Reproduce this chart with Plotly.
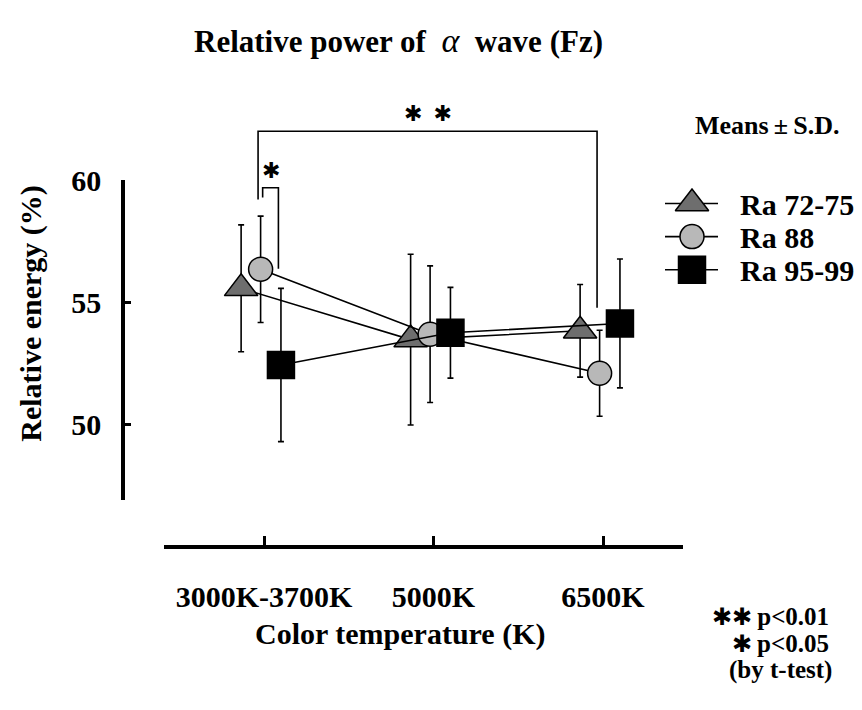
import plotly.graph_objects as go

W, H = 862, 710
SERIF = "Liberation Serif, Times New Roman, serif"

# ---------------- data ----------------
categories = ["3000K-3700K", "5000K", "6500K"]
series_names = ["Ra 72-75", "Ra 88", "Ra 95-99"]
ra72_mean = [55.56, 53.46, 53.82]
ra72_sd = [2.60, 3.50, 1.90]
ra88_mean = [56.34, 53.68, 52.08]
ra88_sd = [2.18, 2.80, 1.76]
ra95_mean = [52.42, 53.74, 54.12]
ra95_sd = [3.14, 1.86, 2.64]
y_tick_vals = [50, 55, 60]

# significance: (series a, category a, series b, category b, label, top level, leg bottom a, leg bottom b)
sig_tests = [
    (1, 0, 1, 2, "✱\u2002✱", 62.0, 59.2, 54.76),
    (1, 0, 2, 0, "✱", 59.68, 59.28, 56.36),
]

# ---------------- styling ----------------
offsets = [-0.135, -0.02, 0.10]
symbols = ["triangle-up", "circle", "square"]
sizes = [29, 24, 27]
fills = ["#6e6e6e", "#b8b8b8", "#000000"]

def px_x(p):
    return p / W

def px_y(p):
    return 1 - p / H

x_dom = [px_x(164), px_x(683)]
y_dom = [px_y(495), px_y(167)]
x_range = [-0.59, 2.472]
y_range = [46.88, 60.0]
slope = (y_range[1] - y_range[0]) / (y_dom[1] - y_dom[0])
y2_range = [y_range[0] - y_dom[0] * slope, y_range[1] + (1 - y_dom[1]) * slope]

# legend layout (pixels)
LEG_ROWS = [191, 225, 259]
LEG_LINE = [665, 692, 718]
LEG_TEXT_X = 738

means = [ra72_mean, ra88_mean, ra95_mean]
sds = [ra72_sd, ra88_sd, ra95_sd]

fig = go.Figure()
for k in range(3):
    fig.add_trace(go.Scatter(
        x=[i + offsets[k] for i in range(len(categories))],
        y=means[k],
        name=series_names[k],
        mode="lines+markers",
        line=dict(color="black", width=1.6),
        marker=dict(symbol=symbols[k], size=sizes[k], color=fills[k], opacity=1,
                    line=dict(color="black", width=1.5)),
        error_y=dict(type="data", array=sds[k], color="black", thickness=1.6, width=3),
        xaxis="x", yaxis="y", cliponaxis=False, showlegend=False,
    ))

# legend glyphs (drawn on a pixel-scaled helper axis pair)
for k in range(3):
    fig.add_trace(go.Scatter(
        x=LEG_LINE, y=[LEG_ROWS[k]] * 3,
        mode="lines+markers",
        line=dict(color="black", width=1.6),
        marker=dict(symbol=symbols[k], size=[0, sizes[k], 0], color=fills[k], opacity=1,
                    line=dict(color="black", width=[0, 1.5, 0])),
        xaxis="x2", yaxis="y3", cliponaxis=False, showlegend=False, hoverinfo="skip",
    ))

bold = dict(family=SERIF, color="black", weight="bold")

shapes = []
annotations = []
for (sa, ca, sb, cb, label, top, bot_a, bot_b) in sig_tests:
    xa = ca + offsets[sa] + (-0.015 if sa == sb else 0.012)
    xb = cb + offsets[sb] - 0.015
    shapes.append(dict(type="path", xref="x", yref="y2",
                       path=f"M {xa},{bot_a} L {xa},{top} L {xb},{top} L {xb},{bot_b}",
                       line=dict(color="black", width=1.6)))
    annotations.append(dict(x=(xa + xb) / 2, y=top + 0.72, xref="x", yref="y2",
                            text=label, showarrow=False,
                            font=dict(family="DejaVu Sans", size=22, color="black"),
                            xanchor="center", yanchor="middle"))

for k in range(3):
    annotations.append(dict(x=px_x(LEG_TEXT_X), y=px_y(LEG_ROWS[k] + 1), xref="paper", yref="paper",
                            text=series_names[k], showarrow=False,
                            font=dict(**bold, size=30), xanchor="left", yanchor="middle"))

star = "<span style='font-family:DejaVu Sans;font-size:24px;font-weight:normal'>{}</span>"
notes = [
    (star.format("✱✱") + "\u2009p&lt;0.01", 831, 615),
    (star.format("✱") + "\u2009p&lt;0.05", 831, 642),
    ("(by t-test)", 834, 669),
]
for txt, nx, ny in notes:
    annotations.append(dict(x=px_x(nx), y=px_y(ny), xref="paper", yref="paper",
                            text=txt, showarrow=False,
                            font=dict(**bold, size=25), xanchor="right", yanchor="middle"))

annotations += [
    dict(x=px_x(398), y=px_y(24), xref="paper", yref="paper", showarrow=False,
         text="<b>Relative power of</b>\u00a0 <span style='font-size:34px'><i>α</i></span> \u00a0<b>wave (Fz)</b>",
         font=dict(family=SERIF, size=31, color="black"), xanchor="center", yanchor="middle"),
    dict(x=px_x(31), y=px_y(304), xref="paper", yref="paper", showarrow=False,
         text="Relative energy (%)", textangle=-90,
         font=dict(**bold, size=30), xanchor="center", yanchor="middle"),
    dict(x=px_x(400), y=px_y(632), xref="paper", yref="paper", showarrow=False,
         text="Color temperature (K)",
         font=dict(**bold, size=30), xanchor="center", yanchor="middle"),
    dict(x=px_x(767), y=px_y(111), xref="paper", yref="paper", showarrow=False,
         text="Means\u2009±\u2009S.D.",
         font=dict(**bold, size=26), xanchor="center", yanchor="middle"),
]

fig.update_layout(
    width=W, height=H,
    margin=dict(l=0, r=0, t=0, b=0),
    paper_bgcolor="white", plot_bgcolor="rgba(0,0,0,0)",
    showlegend=False,
    xaxis=dict(domain=x_dom, range=x_range, anchor="free", position=px_y(543),
               tickvals=list(range(len(categories))), ticktext=categories,
               tickfont=dict(**bold, size=30), ticklabelstandoff=22,
               showline=True, linewidth=3.5, linecolor="black",
               ticks="inside", ticklen=9, tickwidth=3, tickcolor="black",
               showgrid=False, zeroline=False),
    yaxis=dict(domain=y_dom, range=y_range, anchor="free", position=px_x(123),
               tickvals=y_tick_vals, ticktext=[str(v) for v in y_tick_vals],
               tickfont=dict(**bold, size=30), ticklabelstandoff=14,
               showline=True, linewidth=3.5, linecolor="black",
               ticks="inside", ticklen=6, tickwidth=3, tickcolor="black",
               showgrid=False, zeroline=False),
    yaxis2=dict(domain=[0, 1], range=y2_range, anchor="x", visible=False,
                showgrid=False, zeroline=False),
    xaxis2=dict(domain=[0, 1], range=[0, W], anchor="y3", visible=False,
                showgrid=False, zeroline=False),
    yaxis3=dict(domain=[0, 1], range=[H, 0], anchor="x2", visible=False,
                showgrid=False, zeroline=False),
    shapes=shapes,
    annotations=annotations,
)

fig.write_html("out.html")
